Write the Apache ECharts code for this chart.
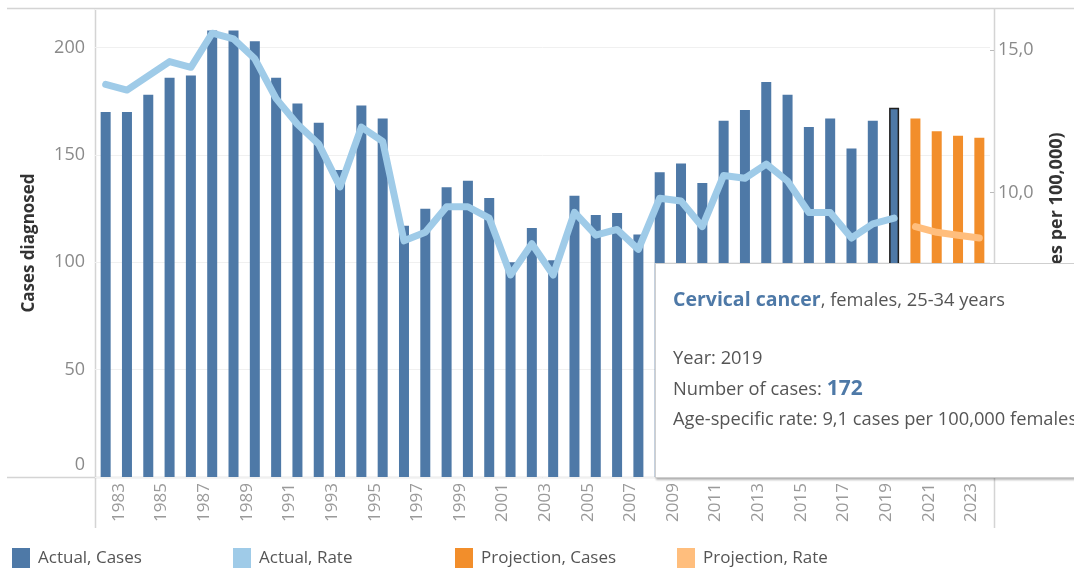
<!DOCTYPE html>
<html>
<head>
<meta charset="utf-8">
<script src="https://cdn.jsdelivr.net/npm/echarts@6/dist/echarts.min.js"></script>
<style>
  html, body { margin: 0; padding: 0; overflow: hidden; background: #fff; }
  #main { width: 1074px; height: 572px; }
</style>
</head>
<body>
<div id="main"></div>
<script>
// years on the x axis
var years = [];
for (var y = 1982; y <= 2023; y++) years.push(String(y));

// cases diagnosed, 1982-2019 (actual) and 2020-2023 (projection)
var actualCases = [170, 170, 178, 186, 187, 208, 208, 203, 186, 174,
                   165, 143, 173, 167, 117, 125, 135, 138, 130, 100,
                   116, 101, 131, 122, 123, 113, 142, 146, 137, 166,
                   171, 184, 178, 163, 167, 153, 166, 172];
var projCases = [167, 161, 159, 158];

// age-specific rate per 100,000
var actualRate = [13.8, 13.6, 14.1, 14.6, 14.4, 15.6, 15.4, 14.7, 13.3, 12.4,
                  11.7, 10.2, 12.3, 11.8, 8.3, 8.6, 9.5, 9.5, 9.1, 7.1,
                  8.2, 7.1, 9.3, 8.5, 8.7, 8.0, 9.8, 9.7, 8.8, 10.6,
                  10.5, 11.0, 10.4, 9.3, 9.3, 8.4, 8.9, 9.1];
var projRate = [8.8, 8.6, 8.5, 8.4];

var leftTicks = [0, 50, 100, 150, 200];
var rightTicks = [0, 5, 10, 15];
var selectedYear = '2019';

var font = '"Open Sans", "Noto Sans", sans-serif';
var nActual = actualCases.length;
var selIdx = years.indexOf(selectedYear);

var barActual = years.map(function (yr, i) {
    if (i >= nActual) return null;
    if (i === selIdx) return { value: actualCases[i], itemStyle: { borderColor: '#1f1f1f', borderWidth: 1.5 } };
    return actualCases[i];
});
var barProj = years.map(function (yr, i) { return i >= nActual ? projCases[i - nActual] : null; });
var lineActual = years.map(function (yr, i) { return i < nActual ? actualRate[i] : null; });
var lineProj = years.map(function (yr, i) { return i >= nActual ? projRate[i - nActual] : null; });

function fmtComma(v) { return v.toFixed(1).replace('.', ','); }

var tipHtml =
    '<div style="font-family:' + font.replace(/"/g, "'") + ';color:#555;width:420px;height:213px;padding:0 0 0 17px;box-sizing:border-box;">' +
    '<div style="padding-top:22px;line-height:26px;font-size:18.3px;white-space:nowrap;">' +
    '<span style="font-weight:bold;color:#4e79a7;font-size:19.5px;">Cervical cancer</span>, females, 25-34 years</div>' +
    '<div style="margin-top:30px;line-height:30px;font-size:18.3px;white-space:nowrap;">Year: ' + selectedYear + '</div>' +
    '<div style="line-height:30px;font-size:18.3px;white-space:nowrap;">Number of cases: ' +
    '<span style="font-weight:bold;color:#4e79a7;font-size:21px;">' + actualCases[selIdx] + '</span></div>' +
    '<div style="line-height:29px;font-size:18.3px;white-space:nowrap;">Age-specific rate: ' + fmtComma(actualRate[selIdx]) +
    ' cases per 100,000 females</div>' +
    '</div>';

var myChart = echarts.init(document.getElementById('main'));

function legendAt(x, name) {
    return {
        data: [name], left: x, top: 548, padding: 0, icon: 'rect',
        itemWidth: 18, itemHeight: 20, selectedMode: false,
        textStyle: { fontFamily: font, fontSize: 17, color: '#555', padding: [5, 0, 0, 3] }
    };
}

var lineColor = '#d4d4d4';
var option = {
    animation: false,
    legend: [
        legendAt(12, 'Actual, Cases'),
        legendAt(233, 'Actual, Rate'),
        legendAt(455, 'Projection, Cases'),
        legendAt(677, 'Projection, Rate')
    ],
    tooltip: {
        trigger: 'item',
        triggerOn: 'none',
        alwaysShowContent: true,
        transitionDuration: 0,
        position: [655, 263],
        padding: 0,
        backgroundColor: '#fff',
        borderColor: '#cfcfcf',
        borderWidth: 1,
        extraCssText: 'box-shadow:1px 2px 2px rgba(0,0,0,0.28);border-radius:0;',
        formatter: function () { return tipHtml; }
    },
    grid: { left: 95, right: 80, top: 9, bottom: 95 },
    xAxis: {
        type: 'category',
        data: years,
        axisLine: { show: false },
        axisTick: { show: false },
        axisLabel: {
            rotate: 90,
            margin: 6,
            fontFamily: font,
            fontSize: 17,
            color: '#9a9a9a',
            verticalAlign: 'bottom',
            lineHeight: 16,
            interval: function (idx, val) { return Number(val) % 2 === 1; }
        }
    },
    yAxis: [
        {
            type: 'value',
            min: 0, max: 218, interval: 50,
            name: 'Cases diagnosed',
            nameLocation: 'middle',
            nameRotate: 90,
            nameGap: 57,
            nameTextStyle: { fontFamily: font, fontSize: 17, fontWeight: 'bold', color: '#333' },
            axisLine: { show: false },
            axisTick: { show: false },
            splitLine: { lineStyle: { color: '#f0f0f0', width: 1 } },
            axisLabel: {
                showMaxLabel: false,
                margin: 10,
                fontFamily: font, fontSize: 18, color: '#8a8a8a',
                formatter: function (v) {
                    if (leftTicks.indexOf(v) < 0) return '';
                    return v === 0 ? '{z|0}' : String(v);
                },
                rich: { z: { fontFamily: font, fontSize: 18, color: '#8a8a8a', padding: [0, 0, 24, 0] } }
            }
        },
        {
            type: 'value',
            position: 'right',
            min: 0, max: 16.45, interval: 5,
            name: 'Rate (cases per 100,000)',
            nameLocation: 'middle',
            nameRotate: 90,
            nameGap: 58,
            nameTextStyle: { fontFamily: font, fontSize: 18, fontWeight: 'bold', color: '#333', padding: [0, 0, 0, 8] },
            axisLine: { show: false },
            axisTick: { show: true, length: 4, lineStyle: { color: '#bbb' } },
            splitLine: { show: false },
            axisLabel: {
                showMaxLabel: false,
                showMinLabel: false,
                margin: 8,
                fontFamily: font, fontSize: 18, color: '#8a8a8a',
                formatter: function (v) { return rightTicks.indexOf(v) < 0 ? '' : fmtComma(v); }
            }
        }
    ],
    graphic: [
        { type: 'line', z: 0, shape: { x1: 7, y1: 8.5, x2: 1074, y2: 8.5 }, style: { stroke: lineColor, lineWidth: 1.5 } },
        { type: 'line', z: 0, shape: { x1: 7, y1: 477.5, x2: 994, y2: 477.5 }, style: { stroke: lineColor, lineWidth: 1.5 } },
        { type: 'line', z: 0, shape: { x1: 95.5, y1: 9, x2: 95.5, y2: 528 }, style: { stroke: lineColor, lineWidth: 1.5 } },
        { type: 'line', z: 0, shape: { x1: 994.5, y1: 9, x2: 994.5, y2: 528 }, style: { stroke: lineColor, lineWidth: 1.5 } }
    ],
    series: [
        {
            name: 'Actual, Cases',
            type: 'bar',
            data: barActual,
            barWidth: 10,
            barGap: '-100%',
            itemStyle: { color: '#4e79a7' }
        },
        {
            name: 'Projection, Cases',
            type: 'bar',
            data: barProj,
            barWidth: 10,
            barGap: '-100%',
            itemStyle: { color: '#f28e2b' }
        },
        {
            name: 'Actual, Rate',
            type: 'line',
            yAxisIndex: 1,
            data: lineActual,
            showSymbol: false,
            symbol: 'none',
            itemStyle: { color: '#9fcbe8' },
            lineStyle: { color: '#9fcbe8', width: 7, cap: 'round', join: 'round' },
            z: 3
        },
        {
            name: 'Projection, Rate',
            type: 'line',
            yAxisIndex: 1,
            data: lineProj,
            showSymbol: false,
            symbol: 'none',
            itemStyle: { color: '#ffbe7d' },
            lineStyle: { color: '#ffbe7d', width: 7, cap: 'round', join: 'round' },
            z: 3
        }
    ]
};
myChart.setOption(option);
myChart.dispatchAction({ type: 'showTip', seriesIndex: 0, dataIndex: selIdx });
</script>
</body>
</html>
